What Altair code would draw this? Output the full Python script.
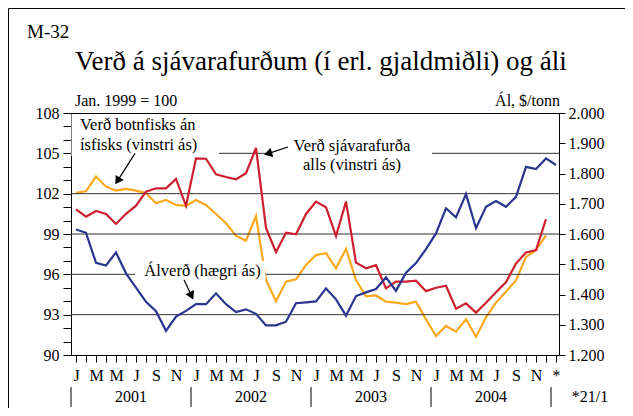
import json
import altair as alt
import pandas as pd

# ---------------- data ----------------
month_letters = ["J", "M", "M", "J", "S", "N"]
end_label = "*"
years = ["2001", "2002", "2003", "2004"]
year_separators = [-0.5, 11.5, 23.5, 35.5, 47.5]
footnote = "*21/1"

# Álverð, $/tonn (right axis) Jan 2001 .. Dec 2004 + Jan 2005 (*)
aluminium = [1615, 1604, 1505, 1496, 1539, 1470, 1423, 1376, 1345, 1280, 1327, 1346,
             1368, 1368, 1404, 1368, 1342, 1351, 1336, 1298, 1298, 1310, 1371, 1374,
             1377, 1420, 1384, 1330, 1395, 1407, 1418, 1457, 1412, 1472, 1504, 1550,
             1602, 1685, 1655, 1732, 1619, 1690, 1709, 1690, 1723, 1822, 1815, 1850,
             1828]

# Verð sjávarafurða alls (left axis)
seafood_total = [100.84, 100.29, 100.71, 100.49, 99.75, 100.5, 101.11, 102.15, 102.4, 102.4, 103.1, 101.1,
                 104.63, 104.6, 103.44, 103.24, 103.07, 103.52, 105.4, 99.45, 97.65, 99.1, 98.98, 100.49,
                 101.41, 100.99, 98.85, 101.41, 96.87, 96.45, 96.68, 94.96, 95.46, 95.46, 95.53, 94.75,
                 95.0, 95.15, 93.45, 93.84, 93.15, 93.88, 94.67, 95.42, 96.8, 97.62, 97.81, 100.11]

# Verð botnfisks án ísfisks (left axis)
groundfish = [102.07, 102.18, 103.27, 102.52, 102.23, 102.35, 102.23, 102.03, 101.29, 101.53, 101.16, 101.09,
              101.53, 101.16, 100.49, 99.8, 98.88, 98.5, 100.34, 95.58, 94.0, 95.46, 95.63, 96.7,
              97.44, 97.57, 96.45, 97.9, 95.58, 94.37, 94.43, 93.97, 93.89, 93.79, 93.97, 92.65,
              91.41, 92.16, 91.74, 92.67, 91.36, 92.8, 93.9, 94.71, 95.55, 97.3, 97.8, 98.9]

left_ticks = list(range(90, 109))
right_ticks = list(range(1200, 2001, 100))
grid_values = [93, 96, 99, 102, 105]

title_text = "Verð á sjávarafurðum (í erl. gjaldmiðli) og áli"
chart_no = "M-32"
left_unit = "Jan. 1999 = 100"
right_unit = "Ál, $/tonn"

# annotation labels (position in month index / left-axis value)
label_groundfish = ["Verð botnfisks án", "ísfisks (vinstri ás)"]
label_total = ["Verð sjávarafurða", "alls (vinstri ás)"]
label_alu = ["Álverð (hægri ás)"]

# ---------------- styles ----------------
FONT = "Liberation Serif"
BLUE = "#28368f"
RED = "#cc1f2f"
ORANGE = "#fba81c"

months = list(range(len(aluminium)))
df_alu = pd.DataFrame({"i": months, "v": aluminium})
df_tot = pd.DataFrame({"i": months[:len(seafood_total)], "v": seafood_total})
df_gf = pd.DataFrame({"i": months[:len(groundfish)], "v": groundfish})

x_scale = alt.Scale(domain=[-0.5, 48.3], nice=False, zero=False)
left_scale = alt.Scale(domain=[90, 108], nice=False, zero=False)
right_scale = alt.Scale(domain=[1200, 2000], nice=False, zero=False)

x_label_expr = (f"datum.value == {len(months) - 1} ? '{end_label}' : "
                f"(datum.value % 2 == 0 ? {json.dumps(month_letters)}[(datum.value % 12) / 2] : '')")
x_axis = alt.Axis(
    values=months, labelExpr=x_label_expr, tickSize=7, labelPadding=5,
    domain=False, grid=False, title=None, labelAngle=0, labelFlush=False,
    labelOverlap=False, orient="bottom")

xl = lambda f: alt.X(f, type="quantitative", scale=x_scale, axis=x_axis)
yl = lambda f: alt.Y(f, type="quantitative", scale=left_scale, axis=None)

grid = alt.Chart(pd.DataFrame({"g": grid_values})).mark_rule(
    color="#333333", strokeWidth=1).encode(y=yl("g"))

gf_line = alt.Chart(df_gf).mark_line(color=ORANGE, strokeWidth=2.2).encode(
    x=xl("i"),
    y=alt.Y("v:Q", scale=left_scale, axis=alt.Axis(
        orient="left", values=left_ticks,
        labelExpr="datum.value % 3 == 0 ? format(datum.value, 'd') : ''",
        tickSize=8, labelPadding=4, domain=False, grid=False, title=None,
        labelOverlap=False)),
)

tot_line = alt.Chart(df_tot).mark_line(color=RED, strokeWidth=2.2).encode(
    x=xl("i"), y=yl("v"))

alu_line = alt.Chart(df_alu).mark_line(color=BLUE, strokeWidth=2.2).encode(
    x=xl("i"),
    y=alt.Y("v:Q", scale=right_scale, axis=alt.Axis(
        orient="right", values=right_ticks,
        labelExpr="replace(format(datum.value, ','), ',', '.')",
        tickSize=6, labelPadding=3, domain=False, grid=False, title=None,
        labelOverlap=False)),
)

# white boxes behind the labels (they hide grid lines)
boxes = alt.Chart(pd.DataFrame({
    "x1": [-0.45, 19.0, 5.9], "x2": [14.3, 35.6, 18.95],
    "y1": [107.9, 106.3, 96.99], "y2": [104.78, 103.4, 95.58]})).mark_rect(
    fill="white").encode(x=xl("x1"), x2="x2", y=yl("y1"), y2="y2")

txt_left = alt.Chart(pd.DataFrame({
    "i": [0.4, 0.4], "v": [107.11, 105.62], "t": label_groundfish})).mark_text(
    align="left", baseline="middle", font=FONT, fontSize=16.5, color="black").encode(
    x=xl("i"), y=yl("v"), text="t:N")

txt_center = alt.Chart(pd.DataFrame({
    "i": [27.6, 27.6, 12.65], "v": [105.55, 104.13, 96.25],
    "t": label_total + label_alu})).mark_text(
    align="center", baseline="middle", font=FONT, fontSize=16.5, color="black").encode(
    x=xl("i"), y=yl("v"), text="t:N")

arrows = pd.DataFrame({
    "x1": [5.9, 21.2, 10.8], "y1": [105.0, 105.47, 95.6],
    "x2": [4.15, 19.2, 11.55], "y2": [102.95, 104.98, 94.4],
    "a": [212.6, 252.4, 155.0]})
shafts = alt.Chart(arrows).mark_rule(color="black", strokeWidth=1.2).encode(
    x=xl("x1"), x2="x2", y=yl("y1"), y2="y2")
heads = alt.Chart(arrows).mark_point(
    shape="triangle-up", filled=True, color="black", size=90, opacity=1).encode(
    x=xl("x2"), y=yl("y2"), angle=alt.Angle("a:Q", scale=None))

# year row under the axis
sep = alt.Chart(pd.DataFrame({"s": year_separators})).mark_rule(
    color="black", strokeWidth=1).encode(x=xl("s"), y=alt.value(274), y2=alt.value(294))
year_centers = [(year_separators[k] + year_separators[k + 1]) / 2 for k in range(len(years))]
year_txt = alt.Chart(pd.DataFrame({"c": year_centers, "y": years})).mark_text(
    font=FONT, fontSize=16, baseline="middle", color="black").encode(
    x=xl("c"), y=alt.value(284), text="y:N")

one = pd.DataFrame({"d": [0]})
def label(text, x, y, size, align="left", baseline="alphabetic"):
    return alt.Chart(one).mark_text(
        text=text, font=FONT, fontSize=size, align=align, baseline=baseline,
        color="black").encode(x=alt.value(x), y=alt.value(y))

foot = label(footnote, 519, 284, 16, align="center", baseline="middle")
h1 = label(chart_no, -44, -75, 19)
h2 = label(title_text, 4, -43, 27)
h3 = label(left_unit, 4, -7, 16)
h4 = label(right_unit, 489, -7, 16, align="right")

frame_top = alt.Chart(one).mark_rule(color="black", strokeWidth=1).encode(
    x=alt.value(-62.5), x2=alt.value(560), y=alt.value(-104.5))
frame_left = alt.Chart(one).mark_rule(color="black", strokeWidth=1).encode(
    x=alt.value(-62.5), y=alt.value(-104.5), y2=alt.value(300))

chart = alt.layer(
    gf_line, grid, tot_line, alu_line, boxes, shafts, heads, txt_left, txt_center,
    sep, year_txt, foot, h1, h2, h3, h4, frame_top, frame_left
).resolve_scale(y="independent").properties(
    width=488, height=242,
    padding={"left": 63, "top": 105, "right": 66, "bottom": 53},
    autosize=alt.AutoSizeParams(type="none"),
).configure(font=FONT).configure_view(
    stroke="black", strokeWidth=1
).configure_axis(
    labelFont=FONT, labelFontSize=16, labelColor="black", tickColor="black",
    tickWidth=1
)

chart.save("out.html", embed_options={"renderer": "svg", "actions": False})
